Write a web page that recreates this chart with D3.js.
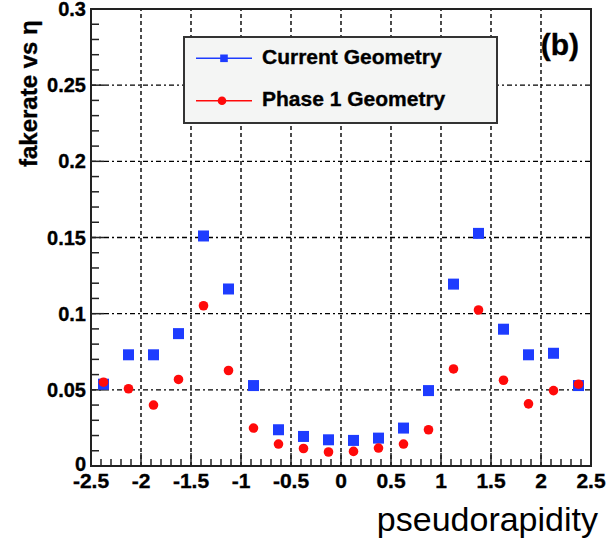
<!DOCTYPE html>
<html lang="en">
<head>
    <meta charset="UTF-8">
    <title>fakerate vs eta</title>
    <style>
        body { margin: 0; background: #fff; }
        text { font-family: "Liberation Sans", Arial, Helvetica, sans-serif; }
        .heavy { stroke: #000; stroke-width: 0.35; }
    </style>
    <script src="https://d3js.org/d3.v7.min.js"></script>
</head>
<body>
    <svg width="606" height="544"></svg>
    <script>
        // bin centres (width 0.25) and fake rates
        const etaBins = [-2.375, -2.125, -1.875, -1.625, -1.375, -1.125, -0.875, -0.625, -0.375, -0.125,
                          0.125,  0.375,  0.625,  0.875,  1.125,  1.375,  1.625,  1.875,  2.125,  2.375];
        const currentGeom = [0.0537, 0.073, 0.073, 0.0869, 0.151, 0.1162, 0.0528, 0.0238, 0.0194, 0.0172,
                             0.0168, 0.0183, 0.0249, 0.0495, 0.1194, 0.1527, 0.0898, 0.073, 0.074, 0.0528];
        const phase1Geom  = [0.055, 0.0507, 0.040, 0.0568, 0.1052, 0.0627, 0.0249, 0.0144, 0.0115, 0.0092,
                             0.0096, 0.0118, 0.0144, 0.0238, 0.0637, 0.1024, 0.0563, 0.0408, 0.0495, 0.0537];
        const xTicks = [-2.5, -2, -1.5, -1, -0.5, 0, 0.5, 1, 1.5, 2, 2.5];
        const yTicks = [0, 0.05, 0.1, 0.15, 0.2, 0.25, 0.3];
        const seriesNames = ["Current Geometry", "Phase 1 Geometry"];

        const svg = d3.select("svg");

        const x = d3.scaleLinear().domain([-2.5, 2.5]).range([91, 591]);
        const y = d3.scaleLinear().domain([0, 0.3]).range([466, 9]);

        const blue = "#1e3cff", red = "#ff0a0a";

        // grid
        const grid = svg.append("g");
        grid.selectAll("line.vg")
            .data(xTicks.slice(1, -1))
            .enter().append("line")
            .attr("x1", d => x(d)).attr("x2", d => x(d))
            .attr("y1", y(0)).attr("y2", y(0.3))
            .attr("stroke", "#000").attr("stroke-width", 1.4)
            .attr("stroke-dasharray", "4,3");
        grid.selectAll("line.hg")
            .data(yTicks.slice(1, -1))
            .enter().append("line")
            .attr("y1", d => y(d)).attr("y2", d => y(d))
            .attr("x1", x(-2.5)).attr("x2", x(2.5))
            .attr("stroke", "#000").attr("stroke-width", 1.4)
            .attr("stroke-dasharray", "5,3,2,3");

        // inward ticks (root style)
        const xMinor = d3.range(-25, 26).map(i => i / 10);
        svg.append("g").selectAll("line")
            .data(xMinor)
            .enter().append("line")
            .attr("x1", d => x(d)).attr("x2", d => x(d))
            .attr("y1", y(0))
            .attr("y2", (d, i) => y(0) - (i % 5 === 0 ? 13 : 7))
            .attr("stroke", "#222").attr("stroke-width", 1.5);

        const yMinor = d3.range(0, 31).map(i => i / 100);
        svg.append("g").selectAll("line")
            .data(yMinor)
            .enter().append("line")
            .attr("y1", d => y(d)).attr("y2", d => y(d))
            .attr("x1", x(-2.5))
            .attr("x2", (d, i) => x(-2.5) + (i % 5 === 0 ? 13 : 8))
            .attr("stroke", "#222").attr("stroke-width", 1.5);

        // frame
        svg.append("rect")
            .attr("x", x(-2.5)).attr("y", y(0.3))
            .attr("width", x(2.5) - x(-2.5)).attr("height", y(0) - y(0.3))
            .attr("fill", "none").attr("stroke", "#222").attr("stroke-width", 2);

        // tick labels
        svg.append("g").selectAll("text")
            .data(xTicks)
            .enter().append("text")
            .attr("class", "heavy")
            .attr("x", d => x(d)).attr("y", 488)
            .attr("text-anchor", "middle")
            .attr("font-size", 21).attr("font-weight", "bold")
            .text(d => d);

        svg.append("g").selectAll("text")
            .data(yTicks)
            .enter().append("text")
            .attr("class", "heavy")
            .attr("x", 86).attr("y", d => d === 0 ? y(d) + 5 : y(d) + 7)
            .attr("text-anchor", "end")
            .attr("font-size", 20).attr("font-weight", "bold")
            .text(d => d);

        // axis titles
        svg.append("text")
            .attr("class", "heavy")
            .attr("transform", "translate(37,167) rotate(-90)")
            .attr("font-size", 24).attr("font-weight", "bold")
            .text("fakerate vs \u03b7");

        svg.append("text")
            .attr("x", 598).attr("y", 531)
            .attr("text-anchor", "end")
            .attr("font-size", 34)
            .text("pseudorapidity");

        // data
        svg.append("g").selectAll("rect")
            .data(currentGeom)
            .enter().append("rect")
            .attr("x", (d, i) => x(etaBins[i]) - 5.5)
            .attr("y", d => y(d) - 5.5)
            .attr("width", 11).attr("height", 11)
            .attr("fill", blue);

        svg.append("g").selectAll("circle")
            .data(phase1Geom)
            .enter().append("circle")
            .attr("cx", (d, i) => x(etaBins[i]))
            .attr("cy", d => y(d))
            .attr("r", 4.8)
            .attr("fill", red);

        // legend
        const lg = svg.append("g");
        lg.append("rect")
            .attr("x", 184).attr("y", 37)
            .attr("width", 313).attr("height", 86)
            .attr("fill", "#f4f5f4").attr("stroke", "#333").attr("stroke-width", 2);

        const rows = [58.3, 100.7];
        seriesNames.forEach((name, i) => {
            const c = i === 0 ? blue : red;
            lg.append("line")
                .attr("x1", 196).attr("x2", 252)
                .attr("y1", rows[i]).attr("y2", rows[i])
                .attr("stroke", c).attr("stroke-width", 1.5);
            if (i === 0) {
                lg.append("rect")
                    .attr("x", 224 - 3.8).attr("y", rows[i] - 3.8)
                    .attr("width", 7.6).attr("height", 7.6)
                    .attr("fill", c);
            } else {
                lg.append("circle")
                    .attr("cx", 222).attr("cy", rows[i]).attr("r", 4.3)
                    .attr("fill", c);
            }
            lg.append("text")
                .attr("class", "heavy")
                .attr("x", 262).attr("y", rows[i] + 5.5)
                .attr("font-size", 21).attr("font-weight", "bold")
                .text(name);
        });

        svg.append("text")
            .attr("class", "heavy")
            .attr("x", 579).attr("y", 55)
            .attr("text-anchor", "end")
            .attr("font-size", 30).attr("font-weight", "bold")
            .text("(b)");
    </script>
</body>
</html>
